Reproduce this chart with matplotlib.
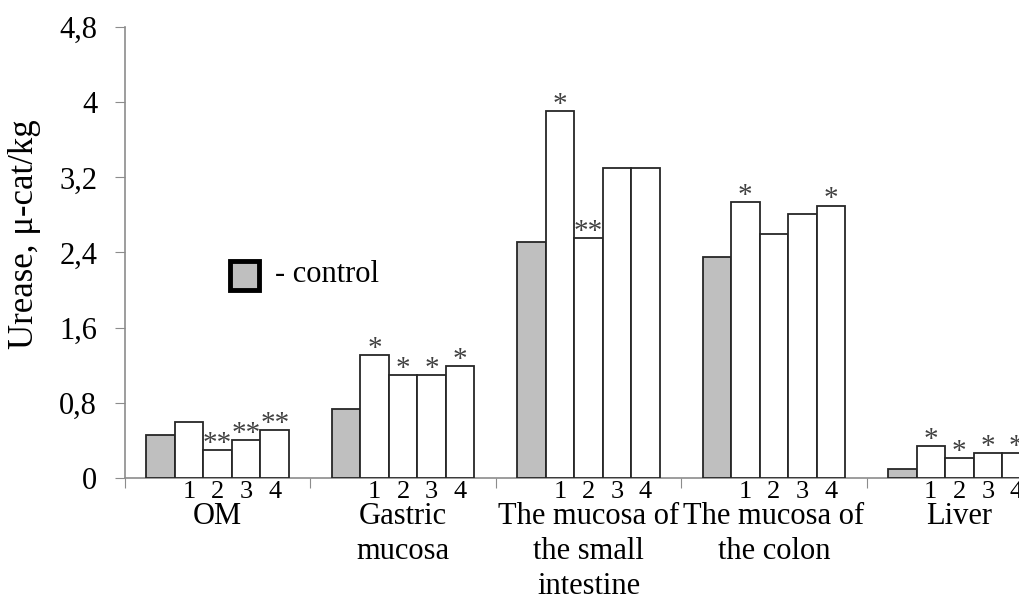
import matplotlib
matplotlib.use("Agg")
import matplotlib.pyplot as plt
from matplotlib.patches import Rectangle
import numpy as np

plt.rcParams['font.family'] = ['Liberation Serif', 'DejaVu Serif']

categories = ["OM", "Gastric\nmucosa", "The mucosa of\nthe small\nintestine",
              "The mucosa of\nthe colon", "Liver"]
control = [0.46, 0.73, 2.51, 2.35, 0.10]
group1 = [0.60, 1.31, 3.91, 2.94, 0.34]
group2 = [0.30, 1.10, 2.55, 2.60, 0.21]
group3 = [0.40, 1.10, 3.30, 2.81, 0.27]
group4 = [0.51, 1.19, 3.30, 2.90, 0.27]
group_labels = ["1", "2", "3", "4"]
marks1 = ["", "*", "*", "*", "*"]
marks2 = ["**", "*", "**", "", "*"]
marks3 = ["**", "*", "", "", "*"]
marks4 = ["**", "*", "", "*", "*"]
yticks = [0, 0.8, 1.6, 2.4, 3.2, 4.0, 4.8]
ytick_labels = ["0", "0,8", "1,6", "2,4", "3,2", "4", "4,8"]
ylabel = "Urease, \u03bc-cat/kg"
legend_label = "- control"

W, H = 1020, 596
fig = plt.figure(figsize=(W / 100, H / 100), dpi=100)
ax = fig.add_axes([125 / W, 118 / H, 927 / W, (478 - 27) / H])

n = len(categories)
bw = 1 / 6.5
off = 0.75 / 6.5
idx = np.arange(n)
edge = '#262626'
series = [control, group1, group2, group3, group4]
marks = [None, marks1, marks2, marks3, marks4]
for k, vals in enumerate(series):
    xs = idx + off + k * bw
    ax.bar(xs, vals, width=bw, align='edge',
           color='#BFBFBF' if k == 0 else 'white',
           edgecolor=edge, linewidth=1.3, zorder=3)
    if k > 0:
        for x, v, m in zip(xs, vals, marks[k]):
            if m:
                ax.annotate(m, (x + bw / 2, v), xytext=(0, -5),
                            textcoords='offset points', ha='center', va='bottom',
                            fontsize=21, color='#404040', zorder=4,
                            annotation_clip=False)
        for x in xs:
            ax.text(x + bw / 2, (478 - 492) / 451, group_labels[k - 1],
                    transform=ax.get_xaxis_transform(), ha='center', va='center',
                    fontsize=19)

for i, c in enumerate(categories):
    ax.text(i + 0.5, (478 - 502) / 451, c, transform=ax.get_xaxis_transform(),
            ha='center', va='top', fontsize=22, linespacing=1.28)

ax.set_xlim(0, n)
ax.set_ylim(0, 4.8)
ax.set_yticks(yticks)
ax.set_yticklabels(ytick_labels, fontsize=22)
ax.set_xticks(np.arange(n + 1))
ax.set_xticklabels([])
ax.tick_params(axis='y', length=7, color='#8c8c8c', pad=13)
ax.tick_params(axis='x', length=7, color='#8c8c8c', direction='out')
for s in ['top', 'right']:
    ax.spines[s].set_visible(False)
for s in ['left', 'bottom']:
    ax.spines[s].set_color('#8c8c8c')
    ax.spines[s].set_linewidth(1.2)
fig.text(25 / W, 1 - 234 / H, ylabel, rotation=90, ha='center', va='center',
         fontsize=25)

# legend
fig.patches.append(Rectangle((230 / W, 1 - 290 / H), 29 / W, 29 / H,
                             transform=fig.transFigure, facecolor='#BFBFBF',
                             edgecolor='black', linewidth=3.5))
fig.text(275 / W, 1 - 275 / H, legend_label, ha='left', va='center', fontsize=22)

fig.savefig("out.png", dpi=100)
